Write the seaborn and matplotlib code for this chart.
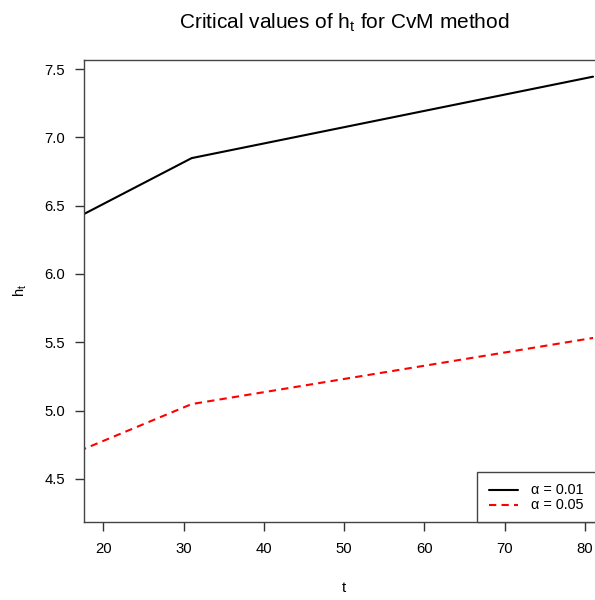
import matplotlib
matplotlib.use("Agg")
import matplotlib.pyplot as plt
from matplotlib.lines import Line2D
from matplotlib.patches import Rectangle
import pandas as pd
import seaborn as sns

# --- data ---
t_vals = [17, 31, 81]
crit_001 = [6.421, 6.848, 7.444]
crit_005 = [4.705, 5.048, 5.532]
series_labels = ["\u03b1 = 0.01", "\u03b1 = 0.05"]

df = pd.DataFrame({
    "t": t_vals * 2,
    "h": crit_001 + crit_005,
    "series": [series_labels[0]] * len(t_vals) + [series_labels[1]] * len(t_vals),
})

sns.set_theme(style="white")
plt.rcParams["font.family"] = ["Liberation Sans", "DejaVu Sans"]
plt.rcParams["text.color"] = "black"
plt.rcParams["mathtext.fontset"] = "custom"
plt.rcParams["mathtext.rm"] = "Liberation Sans"
plt.rcParams["mathtext.it"] = "Liberation Sans"
plt.rcParams["mathtext.sf"] = "Liberation Sans"

W, H = 595, 600


def fx(x):
    return x / W


def fy(y):
    return 1 - y / H


fig = plt.figure(figsize=(5.95, 6.0), dpi=100)
# axes run off the right edge of the picture, like the reference
ax = fig.add_axes([fx(84), fy(522), (612 - 84) / W, (522 - 60) / H])

dash = (0, (3.5, 2.5))
sns.lineplot(data=df, x="t", y="h", hue="series", style="series",
             palette=["black", "red"], dashes=[(None, None), (3.5, 2.5)],
             linewidth=1.5, legend=False, ax=ax)

ax.set_xlim(17.59, 83.36)
ax.set_ylim(4.185, 7.566)
ax.set_xticks([20, 30, 40, 50, 60, 70, 80])
ax.set_yticks([4.5, 5.0, 5.5, 6.0, 6.5, 7.0, 7.5])
ax.set_yticklabels(["4.5", "5.0", "5.5", "6.0", "6.5", "7.0", "7.5"])
ax.tick_params(axis="both", direction="out", length=6.5, width=1, color="#333333",
               labelsize=10.7, pad=7, bottom=True, left=True, labelcolor="black")
ax.tick_params(axis="x", pad=8)
for sp in ax.spines.values():
    sp.set_color("#444444")
    sp.set_linewidth(1)
ax.set_xlabel("")
ax.set_ylabel("")

fig.text(fx(344), fy(588), "t", ha="center", va="center", fontsize=10.7)
fig.text(fx(20), fy(290), r"$\mathrm{h_t}$", ha="center", va="center",
         rotation=90, fontsize=10.7)
fig.text(fx(344), fy(29), r"Critical values of h$_\mathrm{t}$ for CvM method",
         ha="center", va="baseline", fontsize=15)

# legend box in the lower right, cut by the picture edge
fig.patches.append(Rectangle((fx(476.7), fy(522)), (640 - 476.7) / W, (522 - 471.7) / H,
                             transform=fig.transFigure, facecolor="white",
                             edgecolor="#444444", linewidth=1, zorder=5))
rows = [489.7, 505.4]
styles = [("black", "-"), ("red", dash)]
for (col, ls), y, lab in zip(styles, rows, series_labels):
    fig.lines.append(Line2D([fx(489.3), fx(518.3)], [fy(y), fy(y)], color=col, lw=1.5,
                            linestyle=ls, transform=fig.transFigure, zorder=6))
    fig.text(fx(530.7), fy(y), lab, ha="left", va="center", fontsize=10.4, zorder=6)

fig.savefig("out.png", dpi=100)
